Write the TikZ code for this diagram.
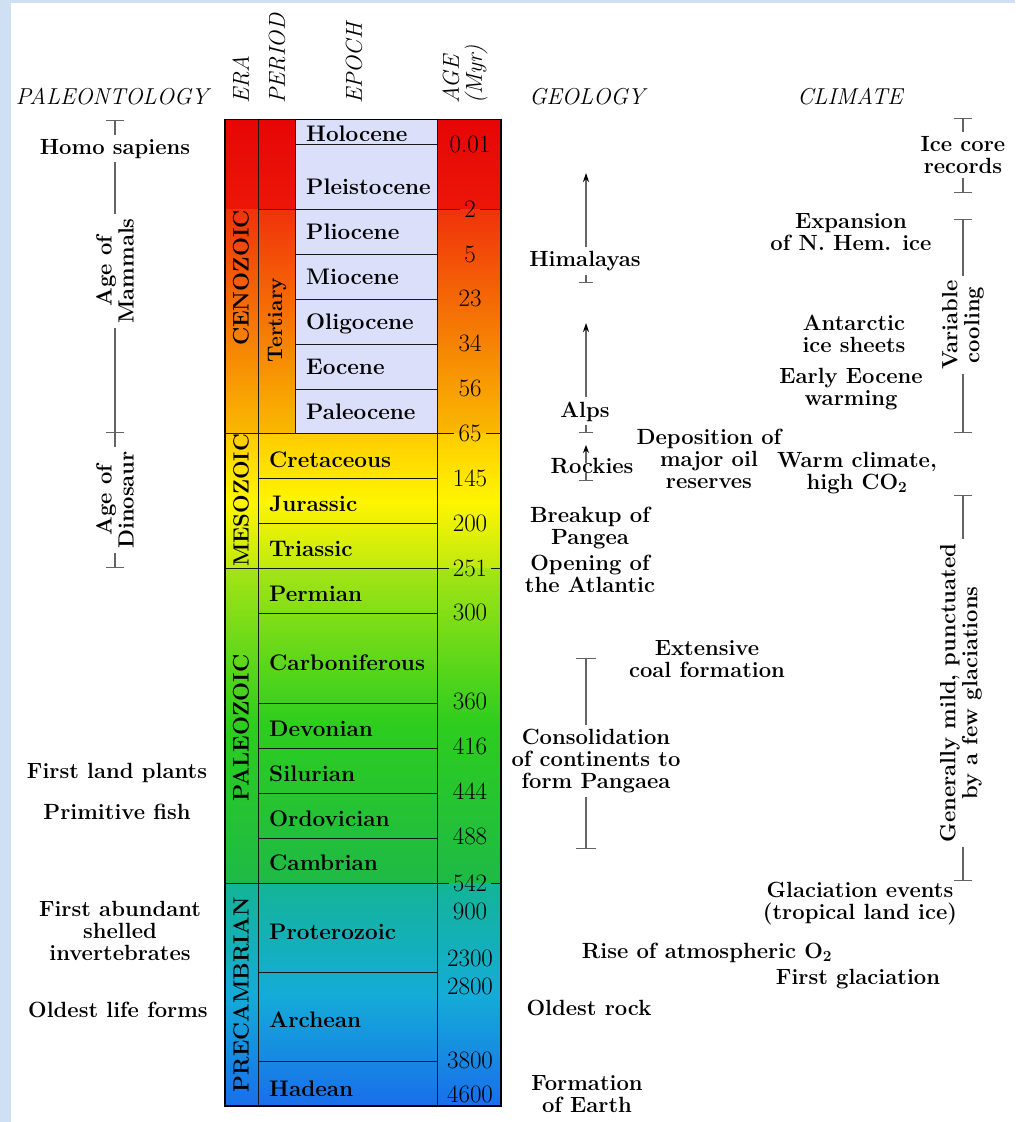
\documentclass[tikz,border=0pt]{standalone}
\usetikzlibrary{arrows.meta}

\definecolor{bgblue}{RGB}{206,224,242}
\definecolor{lavender}{RGB}{219,223,250}
\definecolor{bracketgray}{RGB}{100,100,100}
% era colour bands
\definecolor{cenA}{RGB}{230,6,6}
\definecolor{cenB}{RGB}{236,22,8}
\definecolor{cenC}{RGB}{240,50,10}
\definecolor{cenD}{RGB}{250,185,0}
\definecolor{mesA}{RGB}{255,203,0}
\definecolor{mesB}{RGB}{255,245,0}
\definecolor{mesC}{RGB}{192,234,15}
\definecolor{palA}{RGB}{165,229,20}
\definecolor{palB}{RGB}{45,205,30}
\definecolor{palC}{RGB}{30,186,70}
\definecolor{preA}{RGB}{20,180,150}
\definecolor{preB}{RGB}{20,172,215}
\definecolor{preC}{RGB}{25,110,235}

\tikzset{
  txt/.style={font=\fontsize{22}{22}\selectfont\bfseries, align=center, inner sep=1pt},
  brtxt/.style={txt, inner sep=4pt},
  unitname/.style={font=\fontsize{22.5}{22.5}\selectfont\bfseries, anchor=base west, inner sep=0pt},
  agenum/.style={font=\fontsize{25}{25}\selectfont, anchor=base, inner sep=0pt},
  agemark/.style={font=\fontsize{25}{25}\selectfont, text height=16.1pt, text depth=0pt,
                  inner ysep=0pt, inner xsep=4pt},
  head/.style={font=\fontsize{23}{23}\selectfont\itshape, inner sep=0pt},
  vhead/.style={head, rotate=90, anchor=west},
  eraname/.style={font=\fontsize{22.5}{22.5}\selectfont\bfseries, rotate=90, inner sep=0pt},
  grid/.style={draw=black!90, line width=1pt},
  brk/.style={draw=bracketgray, line width=1.2pt},
}

\begin{document}
\begin{tikzpicture}[x=1pt,y=-1pt]

    \useasboundingbox (0,0) rectangle (1015,1122);
    \fill[bgblue] (0,0) rectangle (1015,1122);
    \fill[white] (11,3) rectangle (1015,1122);

    % column headings
    \node[head, anchor=base] (h-pal) at (112,104) {PALEONTOLOGY};
    \node[head, anchor=base] (h-geo) at (587,104) {GEOLOGY};
    \node[head, anchor=base] (h-cli) at (850,104) {CLIMATE};
    \node[vhead] (h-era) at (241,104) {ERA};
    \node[vhead] (h-per) at (277,104) {PERIOD};
    \node[vhead] (h-epo) at (354,104) {EPOCH};
    \node[vhead, align=left] (h-age) at (465,104) {AGE\\(Myr)};

    % colour bands of the time column
    \shade[top color=cenA, bottom color=cenB] (225,119.5) rectangle (501,209);
    \shade[top color=cenC, bottom color=cenD] (225,209) rectangle (501,433);
    \shade[top color=mesA, bottom color=mesC, middle color=mesB] (225,433) rectangle (501,568);
    \shade[top color=palA, bottom color=palC, middle color=palB] (225,568) rectangle (501,883);
    \shade[top color=preA, bottom color=preC, middle color=preB] (225,883) rectangle (501,1106);
    \fill[lavender] (295,119.5) rectangle (437,433);

    % grid of the time column
    \draw[grid] (258,119.5) -- (258,1106);
    \draw[grid] (295,119.5) -- (295,433);
    \draw[grid] (437,119.5) -- (437,1106);
    \foreach \y in {144,254,299,344,389}
        \draw[grid] (295,\y) -- (437,\y);
    \draw[grid] (258,209) -- (437,209);
    \foreach \y in {433,568,883}
        \draw[grid] (225,\y) -- (437,\y);
    \foreach \y in {478.7,523.7,613,703,748,793,838,972,1061.7}
        \draw[grid] (258,\y) -- (437,\y);
    \draw[line width=1.5pt] (225,119.5) rectangle (501,1106);

    % eras and the tertiary
    \node[eraname] (era-cen) at (241,278) {CENOZOIC};
    \node[eraname, font=\fontsize{22}{22}\selectfont\bfseries] (era-mes) at (241,500.5) {MESOZOIC};
    \node[eraname] (era-pal) at (241,728) {PALEOZOIC};
    \node[eraname, font=\fontsize{22}{22}\selectfont\bfseries] (era-pre) at (241,994.5) {PRECAMBRIAN};
    \node[eraname, font=\fontsize{21}{21}\selectfont\bfseries] (tertiary) at (277,320) {Tertiary};

    % epochs and periods
    \foreach \nm/\yb in {Holocene/141.7, Pleistocene/194, Pliocene/239, Miocene/284,
                         Oligocene/329, Eocene/374, Paleocene/419}
        \node[unitname] (ep-\nm) at (306,\yb) {\nm};
    \foreach \nm/\yb in {Cretaceous/467.5, Jurassic/511.7, Triassic/556.7, Permian/601.7,
                         Carboniferous/670.7, Devonian/736, Silurian/781, Ordovician/826,
                         Cambrian/870.7, Proterozoic/939, Archean/1027, Hadean/1096}
        \node[unitname] (per-\nm) at (269,\yb) {\nm};

    % ages
    \foreach \nm/\yb [count=\i] in {0.01/152.7, 5/262, 23/306.7, 34/351.7, 56/396.7,
                         145/486, 200/531, 300/620, 360/709, 416/754, 444/799, 488/844,
                         900/919, 2300/966, 2800/994, 3800/1068, 4600/1102.7}
        \node[agenum] (age-\i) at (470,\yb) {\nm};
    \foreach \nm/\yl in {2/209, 65/433, 251/568, 542/883} {
        \node[agemark] (agem-\nm) at (470,\yl) {\nm};
        \draw[grid] (437,\yl) -- (agem-\nm.west);
        \draw[grid] (agem-\nm.east) -- (501,\yl);
    }

    % paleontology
    \coordinate (pal top) at (115,119.5);
    \coordinate (pal mid) at (115,433);
    \coordinate (pal bot) at (115,568);
    \node[brtxt, anchor=base] (homo) at (115,154) {Homo sapiens};
    \node[brtxt, rotate=90] (mammals) at (115,271) {Age of\\Mammals};
    \node[brtxt, rotate=90] (dinosaur) at (115,500) {Age of\\Dinosaur};
    \draw[brk, {Bar[width=18pt]}-] (pal top) -- (homo.north);
    \draw[brk] (homo.south) -- (mammals.east);
    \draw[brk, -{Bar[width=18pt]}] (mammals.west) -- (pal mid);
    \draw[brk] (pal mid) -- (dinosaur.east);
    \draw[brk, -{Bar[width=18pt]}] (dinosaur.west) -- (pal bot);

    \node[txt, anchor=base] (plants) at (117,778) {First land plants};
    \node[txt, anchor=base] (fish) at (117,819) {Primitive fish};
    \node[txt] (shelled) at (120,931) {First abundant\\shelled\\invertebrates};
    \node[txt, anchor=base] (oldlife) at (118,1017) {Oldest life forms};

    % geology
    \coordinate (him tip) at (586,173);
    \coordinate (him end) at (586,283);
    \coordinate (alps tip) at (586,323);
    \coordinate (alps end) at (586,433);
    \coordinate (rock tip) at (586,445);
    \coordinate (rock end) at (586,481);
    \coordinate (cons top) at (586,658);
    \coordinate (cons bot) at (586,849);

    \node[brtxt, anchor=base] (himalayas) at (585,266) {Himalayas};
    \node[brtxt, anchor=base] (alps) at (585,417) {Alps};
    \node[txt, anchor=base, inner sep=0pt] (rockies) at (592,473) {Rockies};
    \draw[brk, -{Stealth[length=9pt,width=6pt,color=black]}] (himalayas.north -| him tip) -- (him tip);
    \draw[brk, -{Bar[width=14pt]}] (himalayas.south -| him tip) -- (him end);
    \draw[brk, -{Stealth[length=9pt,width=6pt,color=black]}] (alps.north -| alps tip) -- (alps tip);
    \draw[brk, -{Bar[width=14pt]}] (alps.south -| alps tip) -- (alps end);
    \draw[brk, -{Stealth[length=8pt,width=6pt,color=black]}] ([yshift=-5pt]rockies.north -| rock tip) -- (rock tip);
    \draw[brk, -{Bar[width=14pt]}] (rockies.south -| rock tip) -- (rock end);

    \node[txt] (oil) at (709,459) {Deposition of\\major oil\\reserves};
    \node[txt] (breakup) at (590,528) {Breakup of\\Pangea};
    \node[txt] (atlantic) at (590,574) {Opening of\\the Atlantic};
    \node[txt] (coal) at (707,659.5) {Extensive\\coal formation};
    \node[brtxt] (cons) at (596,761) {Consolidation\\of continents to\\form Pangaea};
    \draw[brk, {Bar[width=20pt]}-] (cons top) -- (cons.north -| cons top);
    \draw[brk, -{Bar[width=20pt]}] (cons.south -| cons top) -- (cons bot);
    \node[txt, anchor=base] (oxygen) at (707,958) {Rise of atmospheric O\textsubscript{2}};
    \node[txt, anchor=base] (oldrock) at (589,1015) {Oldest rock};
    \node[txt] (earth) at (587,1094) {Formation\\of Earth};

    % climate
    \coordinate (ice top) at (963,118);
    \coordinate (ice bot) at (963,193);
    \coordinate (var top) at (963,219);
    \coordinate (var bot) at (963,433);
    \coordinate (gen top) at (963,495);
    \coordinate (gen bot) at (963,881);

    \node[brtxt] (icecore) at (963,155) {Ice core\\records};
    \node[brtxt, rotate=90] (cooling) at (963,325) {Variable\\cooling};
    \node[brtxt, rotate=90] (mild) at (961,693) {Generally mild, punctuated\\by a few glaciations};
    \draw[brk, {Bar[width=18pt]}-] (ice top) -- (icecore.north);
    \draw[brk, -{Bar[width=18pt]}] (icecore.south) -- (ice bot);
    \draw[brk, {Bar[width=18pt]}-] (var top) -- (cooling.east);
    \draw[brk, -{Bar[width=18pt]}] (cooling.west) -- (var bot);
    \draw[brk, {Bar[width=18pt]}-] (gen top) -- (mild.east -| gen top);
    \draw[brk, -{Bar[width=18pt]}] (mild.west -| gen top) -- (gen bot);

    \node[txt] (nhem) at (851,232) {Expansion\\of N. Hem. ice};
    \node[txt] (antarctic) at (854,334) {Antarctic\\ice sheets};
    \node[txt] (eocene) at (851,389) {Early Eocene\\warming};
    \node[txt] (warm) at (857,473) {Warm climate,\\high CO\textsubscript{2}};
    \node[txt] (glacevents) at (860,903.5) {Glaciation events\\(tropical land ice)};
    \node[txt, anchor=base] (firstglac) at (858,984) {First glaciation};

\end{tikzpicture}
\end{document}
